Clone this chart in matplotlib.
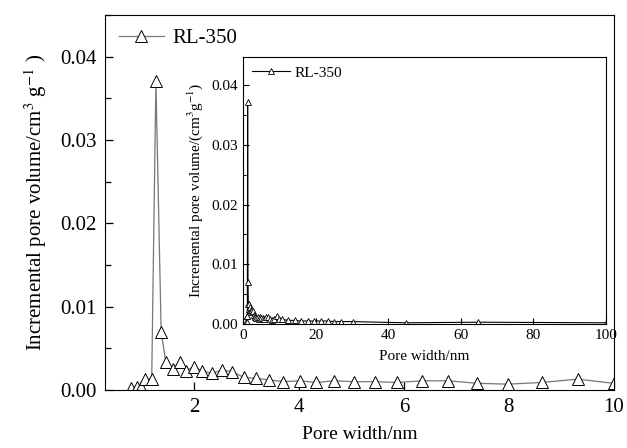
import numpy as np
import matplotlib.pyplot as plt
from matplotlib.ticker import MultipleLocator

plt.rcParams['font.family'] = ['Liberation Serif', 'DejaVu Serif']
plt.rcParams['mathtext.fontset'] = 'stix'

# Distribution de taille de pores (RL-350)
pore_w = [0.79, 0.91, 0.99, 1.07, 1.19, 1.27, 1.37, 1.46, 1.59, 1.72, 1.84,
          1.99, 2.15, 2.34, 2.53, 2.72, 2.95, 3.17, 3.43, 3.70, 4.01, 4.33,
          4.66, 5.04, 5.44, 5.86, 6.35, 6.84, 7.40, 7.98, 8.63, 9.31, 10.0]
pore_v = [0.0002, 0.0003, 0.0004, 0.0013, 0.0013, 0.0371, 0.0070, 0.0033,
          0.0025, 0.0033, 0.0023, 0.0028, 0.0023, 0.0020, 0.0024, 0.0022,
          0.0015, 0.0014, 0.0012, 0.0010, 0.0011, 0.0009, 0.0011, 0.0010,
          0.0010, 0.0009, 0.0011, 0.0011, 0.0008, 0.0007, 0.0009, 0.0013,
          0.0008]

# Points supplémentaires visibles dans l'encart (jusqu'à 100 nm)
ext_w = [10.7, 12.4, 14.2, 16.0, 17.8, 19.6, 21.5, 23.3, 25.1, 26.9, 30.2,
         45.0, 64.8, 100.0]
ext_v = [0.0008, 0.0006, 0.0006, 0.0005, 0.0005, 0.0005, 0.0005, 0.0005,
         0.0004, 0.0004, 0.0004, 0.0002, 0.0003, 0.0002]

label = 'RL-350'

fig = plt.figure(figsize=(6.27, 4.48), dpi=100)

# Graphique principal
ax = fig.add_axes([0.1675, 0.1295, 0.8115, 0.837])
ax.plot(pore_w, pore_v, color='#777777', lw=0.9, marker='^', ms=8,
        mfc='white', mec='black', mew=0.7, label=label)
ax.set_xlim(0.3, 10)
ax.set_ylim(0, 0.045)
ax.set_xticks([2, 4, 6, 8, 10])
ax.set_yticks([0.00, 0.01, 0.02, 0.03, 0.04])
ax.set_yticklabels(['0.00', '0.01', '0.02', '0.03', '0.04'])
ax.yaxis.set_minor_locator(MultipleLocator(0.005))
ax.tick_params(direction='in', labelsize=15, length=6, width=0.9)
ax.tick_params(which='minor', direction='in', length=4, width=0.9)
ax.tick_params(axis='x', pad=6)
ax.tick_params(axis='y', pad=6)
ax.set_xlabel('Pore width/nm', fontsize=14, labelpad=6)
ax.set_ylabel('Incremental pore volume/cm$^3$ g$^{-1}$ )', fontsize=15,
              labelpad=8)
ax.legend(loc='upper left', frameon=False, fontsize=15, handlelength=2.2,
          borderaxespad=0.25, handletextpad=0.4)

# Encart 0-100 nm
ins = fig.add_axes([0.3876, 0.2768, 0.5789, 0.596])
ins.plot(pore_w + ext_w, pore_v + ext_v, color='black', lw=0.8, marker='^',
         ms=5, mfc='white', mec='black', mew=0.6, label=label)
ins.set_xlim(0, 100)
ins.set_ylim(0, 0.0447)
ins.set_xticks([0, 20, 40, 60, 80, 100])
ins.set_yticks([0.00, 0.01, 0.02, 0.03, 0.04])
ins.set_yticklabels(['0.00', '0.01', '0.02', '0.03', '0.04'])
ins.yaxis.set_minor_locator(MultipleLocator(0.005))
ins.tick_params(direction='in', labelsize=11, length=4, width=0.8)
ins.tick_params(which='minor', direction='in', length=2.5, width=0.8)
ins.set_xlabel('Pore width/nm', fontsize=11, labelpad=6)
ins.set_ylabel('Incremental pore volume/(cm$^3$g$^{-1}$)', fontsize=11,
               labelpad=5)
ins.legend(loc='upper left', frameon=False, fontsize=11, handlelength=2.5,
           borderaxespad=0.2, handletextpad=0.3)

plt.savefig('out.png', dpi=100)
